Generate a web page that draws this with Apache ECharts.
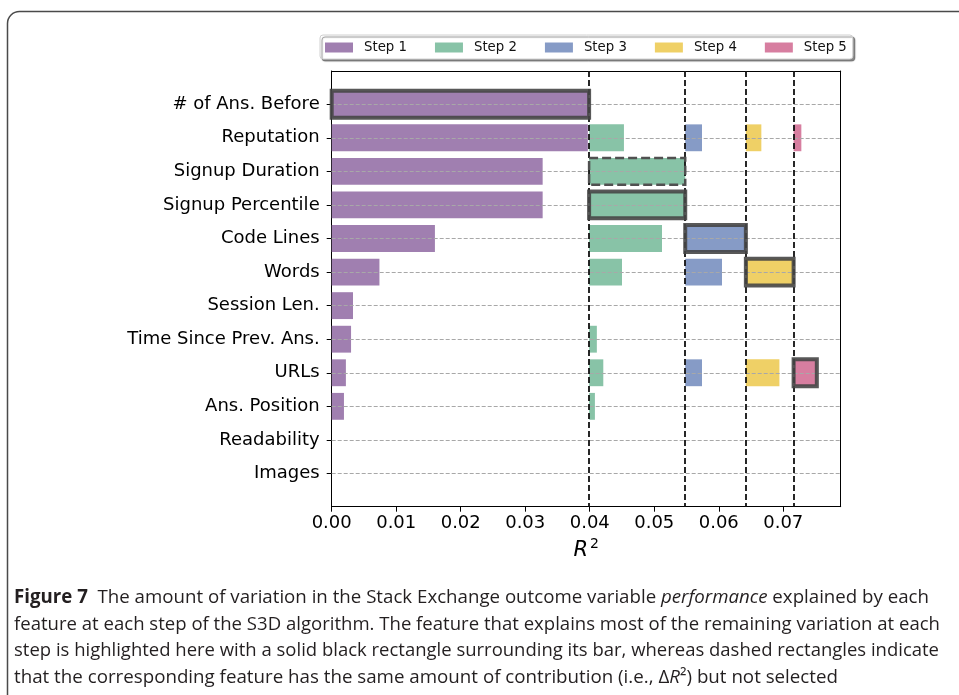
<!DOCTYPE html>
<html>
<head>
<meta charset="utf-8">
<title>S3D feature contributions</title>
<script src="https://cdn.jsdelivr.net/npm/echarts@6/dist/echarts.min.js"></script>
<style>
  html, body { margin: 0; padding: 0; background: #fff; }
  #chart { width: 959px; height: 695px; }
</style>
</head>
<body>
<div id="chart"></div>
<script>
// Features, top to bottom
const features = [
  '# of Ans. Before', 'Reputation', 'Signup Duration', 'Signup Percentile',
  'Code Lines', 'Words', 'Session Len.', 'Time Since Prev. Ans.',
  'URLs', 'Ans. Position', 'Readability', 'Images'
];

const stepNames = ['Step 1', 'Step 2', 'Step 3', 'Step 4', 'Step 5'];
const stepColors = ['#a07fb0', '#88c3a7', '#869bc6', '#efd066', '#d77ea0'];

// Cumulative R^2 reached before each step (the dashed vertical lines)
const stepStarts = [0, 0.0399, 0.0548, 0.0642, 0.0716];

// Cumulative R^2 reached by each feature at each step (null = not evaluated)
const step1 = [0.0399, 0.0397, 0.0327, 0.0327, 0.0160, 0.0074, 0.0033, 0.0030, 0.0022, 0.0019, 0, 0];
const step2 = [null, 0.0453, 0.0548, 0.0548, 0.0512, 0.0450, null, 0.0411, 0.0421, 0.0408, null, null];
const step3 = [null, 0.0574, null, null, 0.0642, 0.0605, null, null, 0.0574, null, null, null];
const step4 = [null, 0.0666, null, null, null, 0.0716, null, null, 0.0694, null, null, null];
const step5 = [null, 0.0728, null, null, null, null, null, null, 0.0752, null, null, null];

// Feature picked at each step (solid frame) and ties that were not picked (dashed frame)
const selectedRow = [0, 3, 4, 5, 8];
const tiedRows = [[], [2], [], [], []];

const xTicks = [0, 0.01, 0.02, 0.03, 0.04, 0.05, 0.06, 0.07];
const X_MAX = 0.0789;
const Y_MIN = -0.99, Y_MAX = 11.99;
const BAR_H = 0.8;

const steps = [step1, step2, step3, step4, step5];
const rows = features.map((_, i) => i);

function barItem(params, api) {
  const p0 = api.coord([api.value(0), api.value(2)]);
  const p1 = api.coord([api.value(1), api.value(2)]);
  const h = api.size([0, BAR_H])[1];
  return {
    type: 'rect',
    shape: { x: p0[0], y: p0[1] - h / 2, width: p1[0] - p0[0], height: h },
    style: { fill: api.visual('color') }
  };
}

function frameItem(params, api) {
  const p0 = api.coord([api.value(0), api.value(2)]);
  const p1 = api.coord([api.value(1), api.value(2)]);
  const h = api.size([0, BAR_H])[1];
  const dashed = api.value(3) === 1;
  return {
    type: 'rect',
    shape: { x: p0[0], y: p0[1] - h / 2, width: p1[0] - p0[0], height: h },
    style: dashed
      ? { fill: null, stroke: '#505050', lineWidth: 2.5, lineDash: [9, 4] }
      : { fill: null, stroke: 'rgba(70,70,70,0.9)', lineWidth: 4 }
  };
}

const barSeries = steps.map((vals, k) => ({
  name: stepNames[k],
  type: 'custom',
  renderItem: barItem,
  itemStyle: { color: stepColors[k] },
  encode: { x: [0, 1], y: 2 },
  z: 2,
  data: vals
    .map((v, r) => [stepStarts[k], v, r])
    .filter(d => d[1] !== null && d[1] > d[0])
}));

const frameData = [];
steps.forEach((vals, k) => {
  frameData.push([stepStarts[k], vals[selectedRow[k]], selectedRow[k], 0]);
  tiedRows[k].forEach(r => frameData.push([stepStarts[k], vals[r], r, 1]));
});

const chart = echarts.init(document.getElementById('chart'), null, { renderer: 'canvas' });

// Caption lines: each is fitted to its column width
const capFont = '"Open Sans", "Liberation Sans", sans-serif';
const capSize = 19;
const capColor = '#231f20';
const capLines = [
  { y: 598, right: 929, segs: [
    ['b', 'Figure 7'], ['n', '  The amount of variation in the Stack Exchange outcome variable '],
    ['i', 'performance'], ['n', ' explained by each']] },
  { y: 624.5, right: 940, segs: [
    ['n', 'feature at each step of the S3D algorithm. The feature that explains most of the remaining variation at each']] },
  { y: 651, right: 939, segs: [
    ['n', 'step is highlighted here with a solid black rectangle surrounding its bar, whereas dashed rectangles indicate']] },
  { y: 677.5, right: 838, segs: [
    ['n', 'that the corresponding feature has the same amount of contribution (i.e., \u0394'],
    ['i', 'R'], ['n', '\u00b2) but not selected']] }
];
const segStyle = {
  n: { fontWeight: 'normal', fontStyle: 'normal' },
  b: { fontWeight: 'bold', fontStyle: 'normal' },
  i: { fontWeight: 'normal', fontStyle: 'italic' }
};
const measureCtx = document.createElement('canvas').getContext('2d');
function segWidth(kind, txt) {
  const s = segStyle[kind];
  measureCtx.font = `${s.fontStyle} ${s.fontWeight} ${capSize}px ${capFont}`;
  return measureCtx.measureText(txt).width;
}
const rich = {};
Object.keys(segStyle).forEach(k => {
  rich[k] = Object.assign({ fontFamily: capFont, fontSize: capSize, color: capColor }, segStyle[k]);
});
const CAP_LEFT = 14;
const captionGraphics = capLines.map(line => {
  const natural = line.segs.reduce((a, s) => a + segWidth(s[0], s[1]), 0);
  return {
    type: 'text',
    x: CAP_LEFT,
    y: line.y,
    scaleX: (line.right - CAP_LEFT) / natural,
    style: {
      text: line.segs.map(s => `{${s[0]}|${s[1]}}`).join(''),
      rich: rich,
      x: 0, y: 0,
      verticalAlign: 'middle',
      align: 'left',
      fill: capColor
    }
  };
});

const option = {
  animation: false,
  backgroundColor: '#ffffff',
  textStyle: { fontFamily: '"DejaVu Sans", sans-serif' },
  grid: { left: 331.7, right: 118.3, top: 71, bottom: 188.3, containLabel: false },
  legend: {
    data: stepNames.map(n => ({ name: n, icon: 'rect' })),
    left: 320, top: 35,
    orient: 'horizontal',
    itemWidth: 28, itemHeight: 10, itemGap: 28,
    padding: [6, 6, 5, 5],
    backgroundColor: '#ffffff',
    borderColor: '#d0d0d0', borderWidth: 1, borderRadius: 3,
    shadowColor: 'rgba(0,0,0,0.45)', shadowBlur: 1, shadowOffsetX: 2, shadowOffsetY: 2,
    textStyle: { fontFamily: '"DejaVu Sans", sans-serif', fontSize: 13.3, color: '#111', padding: [0, 0, 0, 6] }
  },
  xAxis: [{
    type: 'value', min: 0, max: X_MAX, position: 'bottom',
    name: '{r|R}{s|2}', nameLocation: 'middle', nameGap: 27,
    nameTextStyle: {
      rich: {
        r: { fontFamily: '"DejaVu Sans", sans-serif', fontSize: 21, fontStyle: 'italic', color: '#000', lineHeight: 26 },
        s: { fontFamily: '"DejaVu Sans", sans-serif', fontSize: 14, color: '#000', verticalAlign: 'top', lineHeight: 14, padding: [0, 0, 0, 2] }
      }
    },
    axisLine: { show: true, onZero: false, lineStyle: { color: '#000', width: 1 } },
    axisTick: { show: true, length: 5, customValues: xTicks, lineStyle: { color: '#000' } },
    axisLabel: { customValues: xTicks, formatter: v => v.toFixed(2), fontSize: 18, color: '#000', margin: 8 },
    splitLine: { show: false }
  }, {
    type: 'value', min: 0, max: X_MAX, position: 'top',
    axisLine: { show: true, onZero: false, lineStyle: { color: '#000', width: 1 } },
    axisTick: { show: false }, axisLabel: { show: false }, splitLine: { show: false }
  }],
  yAxis: [{
    type: 'value', min: Y_MIN, max: Y_MAX, inverse: true, position: 'left',
    axisLine: { show: true, onZero: false, lineStyle: { color: '#000', width: 1 } },
    axisTick: { show: true, length: 5, customValues: rows, lineStyle: { color: '#000' } },
    axisLabel: { customValues: rows, formatter: v => features[Math.round(v)], fontSize: 18, color: '#000', margin: 12 },
    splitLine: { show: false }
  }, {
    type: 'value', min: Y_MIN, max: Y_MAX, inverse: true, position: 'right',
    axisLine: { show: true, onZero: false, lineStyle: { color: '#000', width: 1 } },
    axisTick: { show: false }, axisLabel: { show: false }, splitLine: { show: false }
  }],
  series: barSeries.concat([
    {
      name: 'rows',
      type: 'line',
      data: [],
      z: 3,
      markLine: {
        silent: true, symbol: 'none', animation: false, precision: 6,
        label: { show: false },
        lineStyle: { color: '#a8a8a8', type: [4, 2], width: 1 },
        data: rows.map(r => ({ yAxis: r }))
      }
    },
    {
      name: 'step starts',
      type: 'line',
      data: [],
      z: 4,
      markLine: {
        silent: true, symbol: 'none', animation: false, precision: 6,
        label: { show: false },
        lineStyle: { color: '#111', type: [6, 3], width: 1.8 },
        data: stepStarts.slice(1).map(v => ({ xAxis: v }))
      }
    },
    {
      name: 'frames',
      type: 'custom',
      renderItem: frameItem,
      encode: { x: [0, 1], y: 2 },
      z: 5,
      data: frameData
    }
  ]),
  graphic: [
    {
      type: 'rect',
      shape: { x: 7.5, y: 11.5, width: 1000, height: 800, r: 12 },
      style: { fill: null, stroke: '#4a4a4a', lineWidth: 1.5 },
      silent: true
    }
  ].concat(captionGraphics)
};

chart.setOption(option);
</script>
</body>
</html>
